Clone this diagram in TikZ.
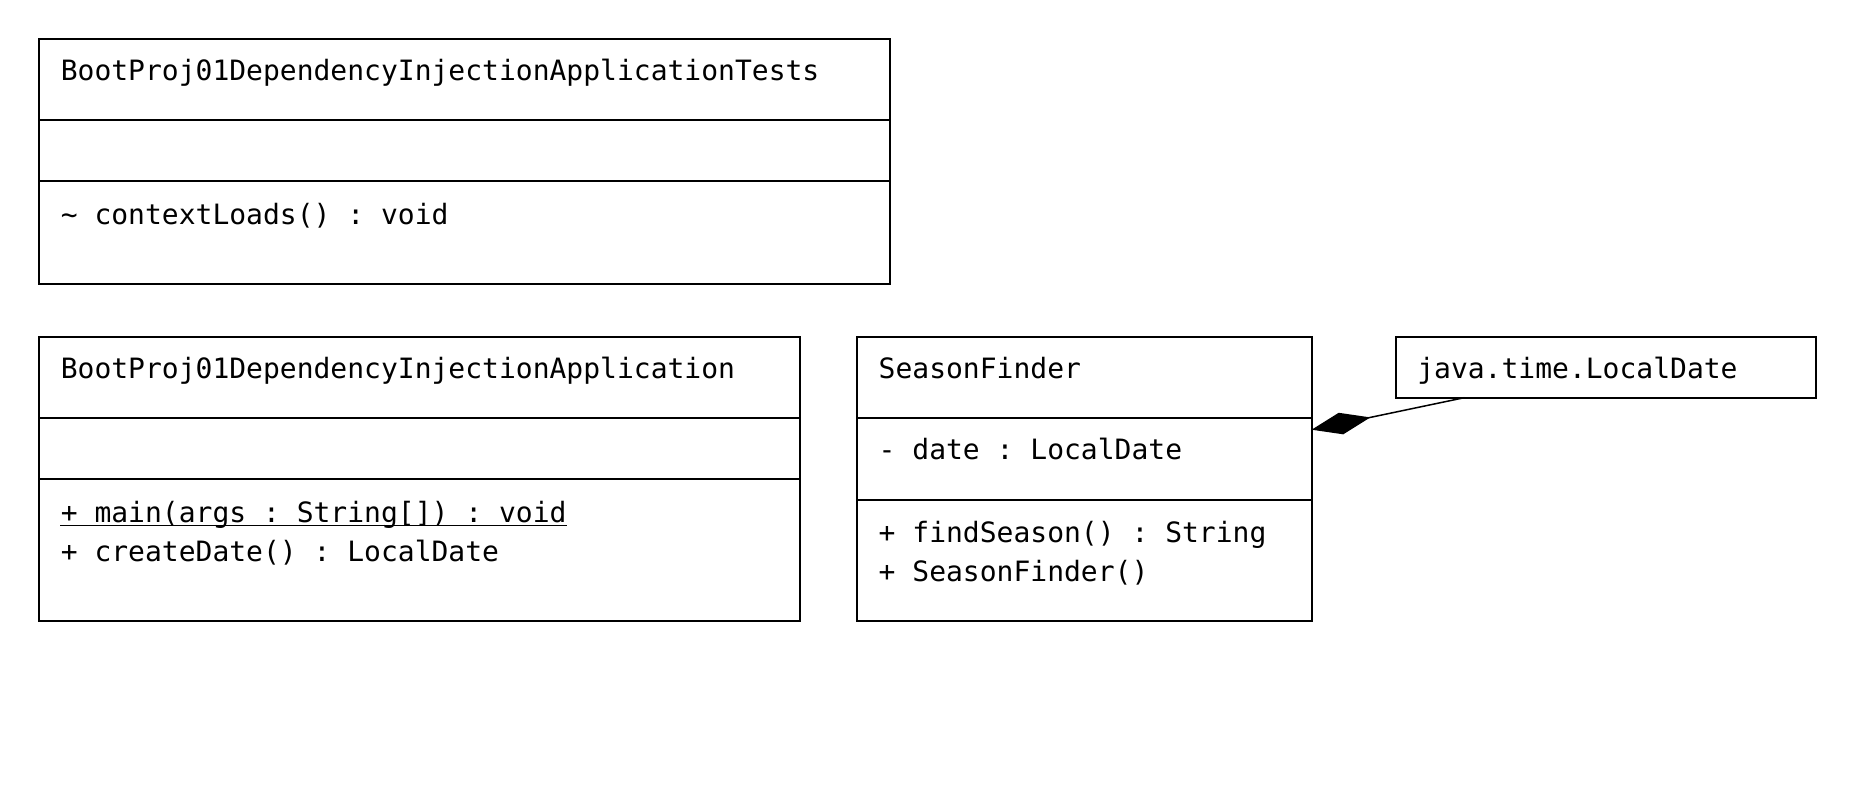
\documentclass[tikz,border=0pt]{standalone}
\usepackage{fontspec}
\setmonofont{DejaVu Sans Mono}
\usetikzlibrary{arrows.meta}
\begin{document}
\begin{tikzpicture}[x=0.5pt,y=-0.5pt,
  boxline/.style={line width=1pt},
  txt/.style={anchor=base west,inner sep=0pt,font=\ttfamily\fontsize{14}{17}\selectfont},
  conn/.style={line width=0.75pt,-{Diamond[length=30pt,width=11pt]}}]
\useasboundingbox (0,0) rectangle (1856,810);
% Box 1: Tests
\draw[boxline] (39,39) rectangle (890,284);
\draw[boxline] (39,119.6) -- (890,119.6);
\draw[boxline] (39,181.1) -- (890,181.1);
\node[txt] (t1) at (60.4,80.5) {BootProj01DependencyInjectionApplicationTests};
\node[txt] (t1m) at (60.4,224.5) {\char`\~{} contextLoads() : void};
% Box 2: Application
\draw[boxline] (39,337.4) rectangle (800.2,621.4);
\draw[boxline] (39,417.9) -- (800.2,417.9);
\draw[boxline] (39,479.4) -- (800.2,479.4);
\node[txt] (t2) at (60.4,378.8) {BootProj01DependencyInjectionApplication};
\node[txt] (t2m1) at (60.4,522) {+ main(args : String[]) : void};
\draw[line width=0.6pt] ([yshift=-1.6pt]t2m1.base west) -- ([yshift=-1.6pt]t2m1.base east);
\node[txt] (t2m2) at (60.4,561.5) {+ createDate() : LocalDate};
% Box 3: SeasonFinder
\draw[boxline] (857,337.4) rectangle (1311.6,621.4);
\draw[boxline] (857,417.9) -- (1311.6,417.9);
\draw[boxline] (857,499.5) -- (1311.6,499.5);
\node[txt] (t3) at (878.3,378.8) {SeasonFinder};
\node[txt] (t3a) at (878.3,459.3) {- date : LocalDate};
\node[txt] (t3m1) at (878.3,542.1) {+ findSeason() : String};
\node[txt] (t3m2) at (878.3,581.6) {+ SeasonFinder()};
% Box 4: LocalDate
\draw[boxline] (1395.6,337.4) rectangle (1815.8,397.7);
\node[txt] (t4) at (1416.9,378.8) {java.time.LocalDate};
% Connector
\coordinate (ldb) at (1464.2,397.7);
\coordinate (sfe) at (1311.6,429.7);
\draw[conn] (ldb) -- (sfe);
\end{tikzpicture}
\end{document}
